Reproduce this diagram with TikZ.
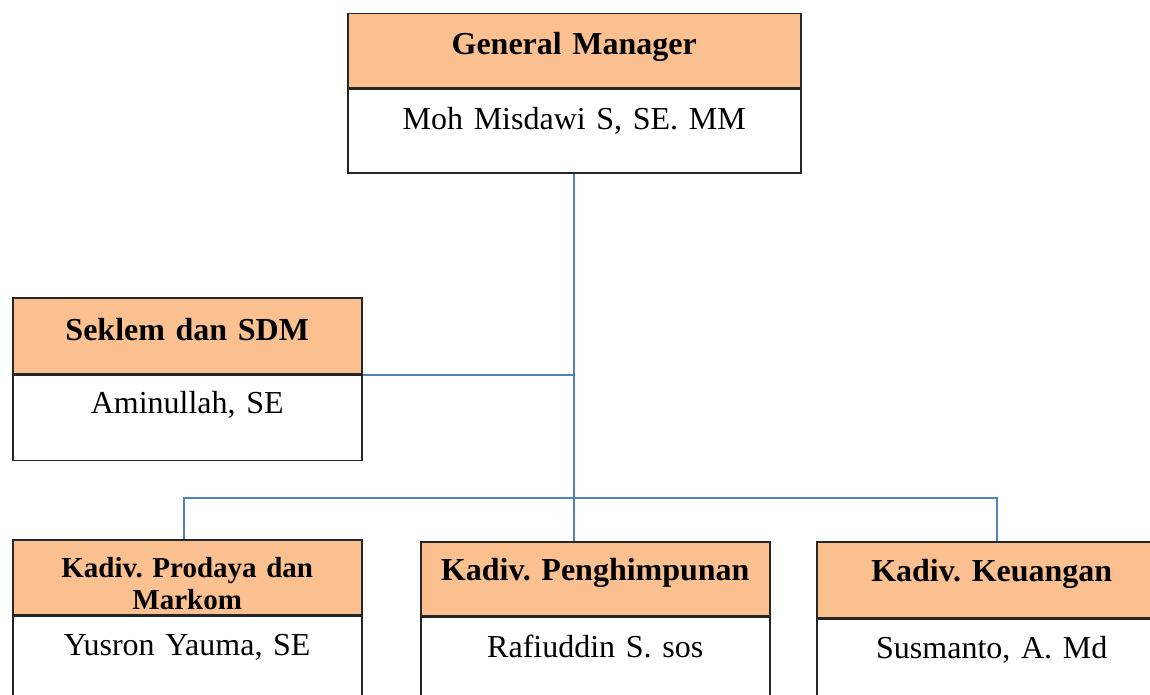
\documentclass[tikz,border=0pt]{standalone}
\usepackage{fontspec}
\setmainfont{Liberation Serif}
\usepackage{xcolor}
\usetikzlibrary{positioning}
\definecolor{headfill}{HTML}{FAC090}
\definecolor{linkblue}{HTML}{4F81BD}
\definecolor{boxline}{HTML}{262626}
\frenchspacing

\begin{document}
\begin{tikzpicture}[x=0.5pt, y=-0.5pt,
			head/.style={draw=boxline, line width=0.75pt, fill=headfill, align=center,
				inner xsep=0pt, inner ysep=0pt, font=\fontsize{16}{19}\selectfont\bfseries},
			body/.style={draw=boxline, line width=0.75pt, fill=white, align=center,
				inner xsep=0pt, inner ysep=0pt, font=\fontsize{16}{19}\selectfont},
			link/.style={draw=linkblue, line width=1pt}]
			\useasboundingbox (0,0) rectangle (1150,695);
			\coordinate (dropL) at (184,498);
			\coordinate (dropR) at (997,498);
			\node at (347,13) (gmh) [head, anchor=north west, text width=226.5pt, text height=20.5pt, text depth=16.5pt] {General Manager};
			\node (gmb) [body, below=0pt of gmh, text width=226.5pt, text height=20pt, text depth=22pt] {Moh Misdawi S, SE. MM};
			\node at (12,297) (skh) [head, anchor=north west, text width=174.5pt, text height=21.5pt, text depth=16.5pt] {Seklem dan SDM};
			\node (skb) [body, below=0pt of skh, text width=174.5pt, text height=19pt, text depth=23.5pt] {Aminullah, SE};
			\node at (12,539) (prh) [head, anchor=north west, text width=174.5pt, text height=19pt, text depth=18.5pt, font=\fontsize{14.5}{16}\selectfont\bfseries] {Kadiv. Prodaya dan\\Markom};
			\node (prb) [body, below=0pt of prh, text width=174.5pt, text height=19.5pt, text depth=40pt] {Yusron Yauma, SE};
			\node at (420,541) (pgh) [head, anchor=north west, text width=174.5pt, text height=19.5pt, text depth=17.5pt] {Kadiv. Penghimpunan};
			\node (pgb) [body, below=0pt of pgh, text width=174.5pt, text height=20pt, text depth=40pt] {Rafiuddin S. sos};
			\node at (816,541) (kuh) [head, anchor=north west, text width=175pt, text height=20pt, text depth=18pt] {Kadiv. Keuangan};
			\node (kub) [body, below=0pt of kuh, text width=175pt, text height=19.5pt, text depth=40pt] {Susmanto, A. Md};
			\draw[link] (gmb.south) -- (gmb.south |- pgh.north);
			\draw[link] (skh.south east) -- (skh.south east -| gmb.south);
			\draw[link] (dropL |- prh.north) -- (dropL) -- (dropR) -- (dropR |- kuh.north);
		\end{tikzpicture}
\end{document}
